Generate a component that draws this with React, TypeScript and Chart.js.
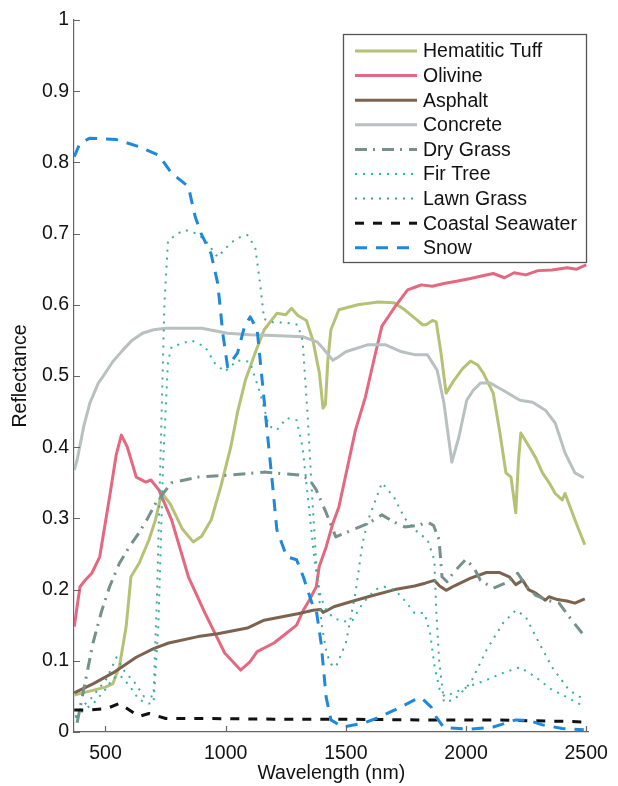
import React, { useEffect, useRef } from "react";
import { Chart, registerables } from "chart.js";

Chart.register(...registerables);

// ---------- data (wavelength in nm, reflectance 0..1) ----------
const xTickValues = [500, 1000, 1500, 2000, 2500];
const yTickValues = [0, 0.1, 0.2, 0.3, 0.4, 0.5, 0.6, 0.7, 0.8, 0.9, 1];

const seriesLabels = [
  "Hematitic Tuff",
  "Olivine",
  "Asphalt",
  "Concrete",
  "Dry Grass",
  "Fir Tree",
  "Lawn Grass",
  "Coastal Seawater",
  "Snow",
];

const tuffNm = [370, 430, 500, 531, 558, 586, 606, 640, 681, 708, 734, 770, 820, 865, 900, 940, 980, 1021, 1050, 1082, 1120, 1160, 1213, 1250, 1274, 1300, 1336, 1363, 1390, 1405, 1415, 1425, 1438, 1471, 1550, 1634, 1700, 1745, 1798, 1819, 1834, 1860, 1876, 1896, 1917, 1950, 1985, 2019, 2050, 2072, 2113, 2141, 2166, 2187, 2207, 2218, 2228, 2264, 2290, 2318, 2346, 2371, 2400, 2412, 2453, 2494];
const tuffR = [0.052, 0.057, 0.063, 0.068, 0.092, 0.148, 0.218, 0.237, 0.27, 0.298, 0.336, 0.32, 0.285, 0.267, 0.275, 0.298, 0.345, 0.4, 0.45, 0.494, 0.53, 0.565, 0.588, 0.586, 0.595, 0.585, 0.578, 0.55, 0.504, 0.455, 0.46, 0.522, 0.565, 0.593, 0.6, 0.604, 0.603, 0.593, 0.578, 0.572, 0.572, 0.578, 0.576, 0.532, 0.476, 0.494, 0.51, 0.521, 0.515, 0.504, 0.476, 0.42, 0.364, 0.358, 0.308, 0.38, 0.42, 0.4, 0.385, 0.364, 0.35, 0.335, 0.326, 0.335, 0.298, 0.263];

const olivineNm = [370, 394, 415, 443, 476, 517, 545, 566, 591, 628, 668, 689, 722, 775, 845, 914, 996, 1062, 1100, 1131, 1201, 1254, 1295, 1323, 1348, 1377, 1389, 1418, 1446, 1471, 1540, 1581, 1615, 1650, 1680, 1704, 1757, 1790, 1814, 1860, 1908, 1960, 2019, 2060, 2113, 2160, 2200, 2248, 2300, 2358, 2420, 2460, 2500];
const olivineR = [0.148, 0.204, 0.213, 0.223, 0.246, 0.33, 0.39, 0.417, 0.4, 0.358, 0.351, 0.354, 0.34, 0.298, 0.218, 0.167, 0.111, 0.087, 0.098, 0.113, 0.125, 0.139, 0.15, 0.171, 0.185, 0.204, 0.232, 0.26, 0.293, 0.316, 0.424, 0.47, 0.52, 0.57, 0.585, 0.597, 0.621, 0.625, 0.628, 0.626, 0.63, 0.633, 0.637, 0.64, 0.644, 0.638, 0.645, 0.642, 0.648, 0.649, 0.652, 0.65, 0.656];

const asphaltNm = [370, 450, 531, 628, 700, 763, 885, 967, 1090, 1160, 1300, 1364, 1395, 1405, 1418, 1450, 1520, 1593, 1704, 1786, 1830, 1868, 1890, 1917, 1950, 2019, 2085, 2140, 2180, 2207, 2236, 2260, 2290, 2310, 2330, 2345, 2380, 2420, 2453, 2494];
const asphaltR = [0.055, 0.068, 0.083, 0.105, 0.117, 0.125, 0.134, 0.138, 0.146, 0.157, 0.166, 0.171, 0.172, 0.168, 0.17, 0.176, 0.183, 0.19, 0.2, 0.205, 0.209, 0.213, 0.205, 0.199, 0.205, 0.216, 0.224, 0.224, 0.218, 0.207, 0.213, 0.2, 0.195, 0.19, 0.185, 0.19, 0.186, 0.184, 0.181, 0.187];

const concreteNm = [370, 382, 410, 435, 470, 489, 530, 571, 610, 654, 700, 751, 900, 1008, 1100, 1200, 1323, 1380, 1405, 1446, 1470, 1500, 1593, 1663, 1732, 1786, 1839, 1880, 1908, 1941, 1970, 2003, 2030, 2060, 2101, 2154, 2224, 2277, 2330, 2371, 2412, 2453, 2490];
const concreteR = [0.368, 0.382, 0.43, 0.462, 0.49, 0.499, 0.52, 0.536, 0.55, 0.56, 0.565, 0.567, 0.567, 0.56, 0.558, 0.557, 0.555, 0.548, 0.539, 0.522, 0.527, 0.534, 0.544, 0.544, 0.534, 0.53, 0.53, 0.508, 0.462, 0.379, 0.414, 0.466, 0.48, 0.49, 0.49, 0.48, 0.466, 0.463, 0.452, 0.434, 0.392, 0.364, 0.357];

const dryGrassNm = [382, 415, 448, 485, 517, 558, 599, 640, 675, 710, 775, 885, 1021, 1160, 1307, 1348, 1377, 1418, 1458, 1528, 1593, 1650, 1700, 1745, 1800, 1839, 1865, 1888, 1900, 1921, 1950, 1998, 2031, 2060, 2113, 2170, 2215, 2250, 2290, 2340, 2387, 2440, 2490];
const dryGrassR = [0.013, 0.069, 0.125, 0.171, 0.204, 0.237, 0.26, 0.28, 0.3, 0.322, 0.35, 0.358, 0.361, 0.365, 0.361, 0.355, 0.34, 0.308, 0.274, 0.284, 0.293, 0.305, 0.295, 0.288, 0.29, 0.295, 0.29, 0.27, 0.218, 0.211, 0.225, 0.242, 0.232, 0.213, 0.202, 0.21, 0.223, 0.205, 0.192, 0.185, 0.181, 0.157, 0.136];

const firNm = [375, 410, 450, 500, 530, 560, 600, 640, 680, 700, 720, 740, 760, 775, 857, 914, 955, 996, 1049, 1100, 1140, 1180, 1213, 1254, 1295, 1320, 1345, 1370, 1395, 1420, 1450, 1490, 1528, 1570, 1622, 1660, 1700, 1732, 1786, 1827, 1850, 1870, 1890, 1910, 1950, 2019, 2085, 2154, 2224, 2290, 2358, 2420, 2494];
const firR = [0.02, 0.031, 0.04, 0.06, 0.075, 0.08, 0.065, 0.045, 0.04, 0.041, 0.15, 0.38, 0.52, 0.541, 0.55, 0.541, 0.518, 0.506, 0.522, 0.52, 0.48, 0.43, 0.424, 0.441, 0.438, 0.4, 0.32, 0.24, 0.19, 0.17, 0.16, 0.155, 0.157, 0.181, 0.2, 0.204, 0.2, 0.19, 0.167, 0.167, 0.14, 0.09, 0.06, 0.05, 0.055, 0.065, 0.073, 0.083, 0.091, 0.077, 0.059, 0.049, 0.035];

const lawnNm = [375, 400, 435, 470, 505, 546, 580, 620, 660, 700, 715, 730, 745, 760, 800, 832, 880, 914, 967, 1021, 1060, 1090, 1123, 1143, 1160, 1200, 1250, 1300, 1320, 1340, 1360, 1380, 1400, 1420, 1440, 1458, 1500, 1540, 1569, 1593, 1650, 1700, 1745, 1800, 1840, 1868, 1876, 1888, 1908, 1950, 2019, 2085, 2154, 2207, 2248, 2290, 2358, 2428, 2494];
const lawnR = [0.021, 0.035, 0.045, 0.06, 0.075, 0.105, 0.085, 0.07, 0.05, 0.05, 0.2, 0.4, 0.6, 0.69, 0.7, 0.705, 0.7, 0.691, 0.667, 0.687, 0.695, 0.698, 0.681, 0.63, 0.58, 0.575, 0.575, 0.572, 0.55, 0.45, 0.33, 0.22, 0.15, 0.11, 0.095, 0.091, 0.125, 0.195, 0.265, 0.298, 0.35, 0.33, 0.3, 0.28, 0.27, 0.242, 0.171, 0.101, 0.042, 0.045, 0.069, 0.115, 0.153, 0.171, 0.162, 0.134, 0.091, 0.059, 0.045];

const seawaterNm = [370, 435, 505, 558, 599, 640, 681, 751, 900, 1200, 1500, 1800, 2100, 2400, 2500];
const seawaterR = [0.031, 0.031, 0.033, 0.04, 0.031, 0.022, 0.026, 0.019, 0.019, 0.018, 0.018, 0.017, 0.017, 0.015, 0.014];

const snowNm = [370, 394, 435, 546, 640, 722, 775, 845, 873, 898, 939, 967, 988, 1008, 1049, 1078, 1102, 1131, 1160, 1172, 1193, 1213, 1254, 1295, 1323, 1364, 1377, 1397, 1418, 1438, 1487, 1569, 1634, 1704, 1786, 1814, 1855, 1876, 1908, 2019, 2113, 2207, 2264, 2318, 2400, 2490];
const snowR = [0.808, 0.827, 0.834, 0.832, 0.822, 0.81, 0.785, 0.766, 0.724, 0.7, 0.672, 0.63, 0.56, 0.513, 0.532, 0.569, 0.583, 0.565, 0.466, 0.424, 0.354, 0.284, 0.246, 0.242, 0.218, 0.176, 0.171, 0.125, 0.049, 0.017, 0.007, 0.012, 0.02, 0.031, 0.045, 0.048, 0.035, 0.021, 0.006, 0.004, 0.007, 0.017, 0.016, 0.01, 0.005, 0.003];

// ---------- styles ----------
const FONT = "'Liberation Sans', Arial, Helvetica, sans-serif";

const pts = (xs: number[], ys: number[]) => xs.map((x, i) => ({ x, y: ys[i] }));

const seriesData = [
  pts(tuffNm, tuffR),
  pts(olivineNm, olivineR),
  pts(asphaltNm, asphaltR),
  pts(concreteNm, concreteR),
  pts(dryGrassNm, dryGrassR),
  pts(firNm, firR),
  pts(lawnNm, lawnR),
  pts(seawaterNm, seawaterR),
  pts(snowNm, snowR),
];

const seriesStyles = [
  { color: "#b5c276", width: 3, dash: [] as number[] },
  { color: "#e4687f", width: 3, dash: [] },
  { color: "#7b6350", width: 3, dash: [] },
  { color: "#b8c0c0", width: 3, dash: [] },
  { color: "#76918b", width: 3, dash: [12, 6, 2, 7] },
  { color: "#30b6a0", width: 2, dash: [2, 6] },
  { color: "#46a892", width: 2, dash: [2, 6] },
  { color: "#111111", width: 3, dash: [9, 9] },
  { color: "#1e88dc", width: 3, dash: [12, 9] },
];

const inwardTicks = {
  id: "inwardTicks",
  afterDatasetsDraw(chart: any) {
    const { ctx, chartArea, scales } = chart;
    ctx.save();
    ctx.strokeStyle = "#666";
    ctx.lineWidth = 1.2;
    ctx.beginPath();
    for (const v of yTickValues) {
      const y = Math.round(scales.y.getPixelForValue(v)) + 0.5;
      ctx.moveTo(chartArea.left, y);
      ctx.lineTo(chartArea.left + 6, y);
    }
    for (const v of xTickValues) {
      const x = Math.round(scales.x.getPixelForValue(v)) + 0.5;
      ctx.moveTo(x, chartArea.bottom);
      ctx.lineTo(x, chartArea.bottom - 6);
    }
    ctx.stroke();
    ctx.restore();
  },
};

const boxLegend = {
  id: "boxLegend",
  afterDraw(chart: any) {
    const ctx = chart.ctx;
    const x0 = 343, y0 = 34, w = 243, h = 228;
    ctx.save();
    ctx.fillStyle = "#fff";
    ctx.fillRect(x0, y0, w, h);
    ctx.strokeStyle = "#555";
    ctx.lineWidth = 1.3;
    ctx.strokeRect(x0 + 0.5, y0 + 0.5, w, h);
    chart.data.datasets.forEach((ds: any, i: number) => {
      const y = y0 + 17 + i * 24.6;
      ctx.beginPath();
      ctx.setLineDash(ds.borderDash || []);
      ctx.strokeStyle = ds.borderColor;
      ctx.lineWidth = ds.borderWidth;
      ctx.moveTo(355, y);
      ctx.lineTo(417, y);
      ctx.stroke();
      ctx.setLineDash([]);
      ctx.fillStyle = "#111";
      ctx.font = `19.5px ${FONT}`;
      ctx.textBaseline = "middle";
      ctx.textAlign = "left";
      ctx.fillText(ds.label, 423, y + 1);
    });
    ctx.restore();
  },
};

export default function App() {
  const ref = useRef<HTMLCanvasElement | null>(null);

  useEffect(() => {
    document.body.style.margin = "0";
    const canvas = ref.current!;
    const chart = new Chart(canvas, {
      type: "line",
      data: {
        datasets: seriesLabels.map((label, i) => ({
          label,
          data: seriesData[i],
          borderColor: seriesStyles[i].color,
          backgroundColor: seriesStyles[i].color,
          borderWidth: seriesStyles[i].width,
          borderDash: seriesStyles[i].dash,
          borderCapStyle: "butt",
          borderJoinStyle: "round",
          pointRadius: 0,
          tension: 0,
          fill: false,
          order: seriesLabels.length - i,
        })),
      },
      options: {
        responsive: false,
        animation: false,
        events: [],
        layout: { padding: { top: 20, right: 21, left: 0, bottom: 0 } },
        plugins: {
          legend: { display: false },
          tooltip: { enabled: false },
        },
        scales: {
          x: {
            type: "linear",
            min: 369,
            max: 2510,
            grid: { display: false, drawTicks: false },
            border: { display: true, color: "#666", width: 1.2 },
            afterBuildTicks: (s: any) => {
              s.ticks = xTickValues.map((v) => ({ value: v }));
            },
            afterFit: (s: any) => {
              s.height = 54;
            },
            ticks: {
              color: "#111",
              font: { family: FONT, size: 19.5 },
              padding: 10,
              maxRotation: 0,
              autoSkip: false,
              callback: (v: any) => String(v),
            },
            title: {
              display: true,
              text: "Wavelength (nm)",
              color: "#111",
              font: { family: FONT, size: 19.5 },
              padding: { top: 0, bottom: 1 },
            },
          },
          y: {
            type: "linear",
            min: 0,
            max: 1,
            grid: { display: false, drawTicks: false },
            border: { display: true, color: "#666", width: 1.2 },
            afterBuildTicks: (s: any) => {
              s.ticks = yTickValues.map((v) => ({ value: v }));
            },
            afterFit: (s: any) => {
              s.width = 74;
            },
            ticks: {
              color: "#111",
              font: { family: FONT, size: 19.5 },
              padding: 5,
              autoSkip: false,
              callback: (v: any) => String(Math.round(Number(v) * 10) / 10),
            },
            title: {
              display: true,
              text: "Reflectance",
              color: "#111",
              font: { family: FONT, size: 19.5 },
              padding: { top: 9, bottom: 0 },
            },
          },
        },
      },
      plugins: [inwardTicks, boxLegend],
    });
    return () => chart.destroy();
  }, []);

  return (
    <div style={{ width: 618, height: 786, background: "#fff" }}>
      <canvas ref={ref} width={618} height={786} style={{ display: "block" }} />
    </div>
  );
}
